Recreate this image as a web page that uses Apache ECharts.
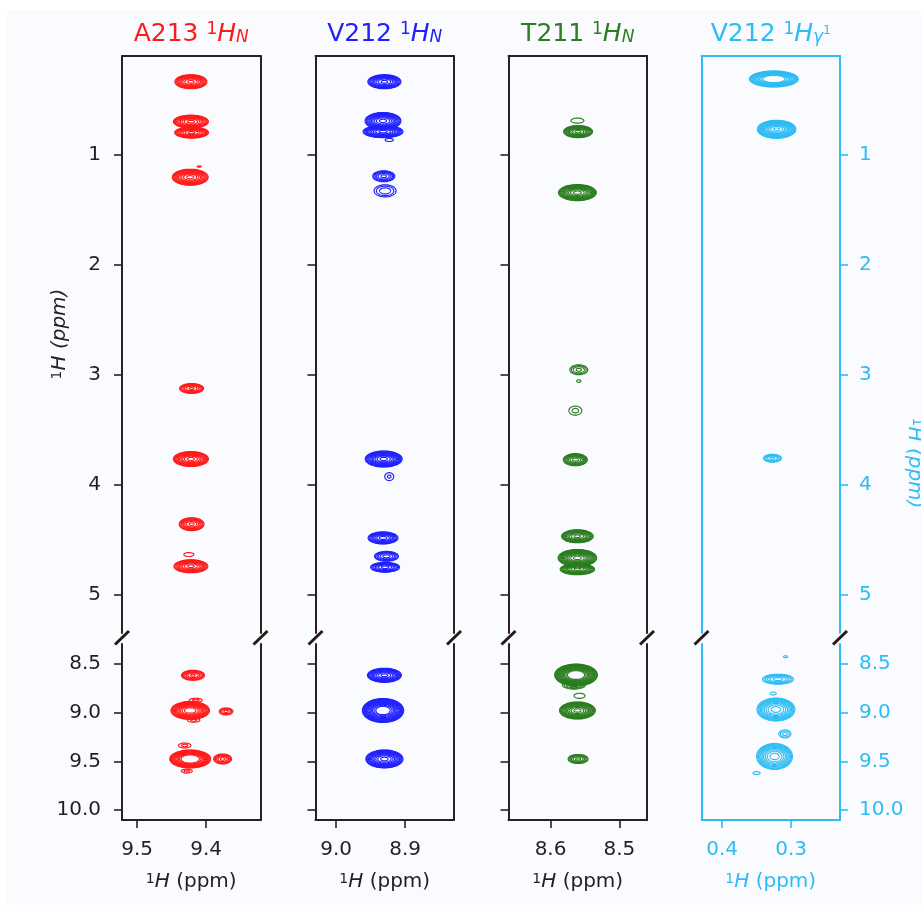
<!DOCTYPE html>
<html><head><meta charset="utf-8">
<script src="https://cdn.jsdelivr.net/npm/echarts@6/dist/echarts.min.js"></script>
<style>
html,body{margin:0;padding:0;background:#ffffff;}
#bg{position:absolute;left:7px;top:10px;width:914px;height:895px;background:#fafbfe;}
#c{position:absolute;left:0;top:0;width:921px;height:908px;}
</style>
</head><body><div id="bg"></div><div id="c"></div>
<script>
// ---------------- data ----------------
const panelNames = ['A213', 'V212', 'T211', 'V212'];
const panelAtoms = ['N', 'N', 'N', 'γ'];
const xRanges = [[9.321, 9.522], [8.829, 9.030], [8.460, 8.661], [0.229, 0.430]];
const yRangeTop = [0.1, 5.35];
const yRangeBottom = [8.3, 10.1];
const xTicks = [[9.5, 9.4], [9.0, 8.9], [8.6, 8.5], [0.4, 0.3]];
const yTicksTop = [1, 2, 3, 4, 5];
const yTicksBottom = [8.5, 9.0, 9.5, 10.0];

// peaks: [x ppm, y ppm, half-width x (ppm), half-width y (ppm), contour levels, inner level fraction]
const peaksA213 = [
  [9.422, 0.334, 0.0232, 0.064, 10, 0.2],
  [9.422, 0.697, 0.0254, 0.059, 10, 0.2],
  [9.421, 0.797, 0.0246, 0.050, 10, 0.2],
  [9.410, 1.106, 0.0030, 0.005, 1, 1],
  [9.423, 1.203, 0.0260, 0.073, 11, 0.2],
  [9.421, 3.125, 0.0174, 0.045, 7, 0.2],
  [9.422, 3.767, 0.0254, 0.068, 11, 0.2],
  [9.421, 4.360, 0.0180, 0.059, 8, 0.2],
  [9.425, 4.636, 0.0072, 0.018, 1, 1],
  [9.422, 4.743, 0.0246, 0.059, 10, 0.2],
  [9.419, 8.620, 0.0167, 0.051, 7, 0.2],
  [9.423, 8.980, 0.0280, 0.092, 12, 0.3],
  [9.415, 8.875, 0.0095, 0.020, 2, 0.5],
  [9.418, 9.080, 0.0090, 0.020, 2, 0.5],
  [9.371, 8.990, 0.0099, 0.036, 4, 0.3],
  [9.423, 9.476, 0.0297, 0.092, 12, 0.45],
  [9.431, 9.338, 0.0090, 0.025, 2, 0.5],
  [9.428, 9.600, 0.0080, 0.020, 2, 0.5],
  [9.376, 9.476, 0.0130, 0.051, 6, 0.25]
];
const peaksV212N = [
  [8.930, 0.334, 0.0240, 0.064, 10, 0.2],
  [8.932, 0.691, 0.0260, 0.077, 11, 0.2],
  [8.932, 0.788, 0.0290, 0.055, 11, 0.2],
  [8.923, 0.864, 0.0060, 0.014, 1, 1],
  [8.931, 1.194, 0.0160, 0.050, 6, 0.25],
  [8.929, 1.327, 0.0160, 0.055, 3, 0.5],
  [8.931, 3.767, 0.0268, 0.073, 12, 0.2],
  [8.923, 3.927, 0.0065, 0.036, 2, 0.4],
  [8.932, 4.485, 0.0217, 0.055, 9, 0.25],
  [8.927, 4.652, 0.0174, 0.045, 6, 0.3],
  [8.929, 4.752, 0.0210, 0.045, 8, 0.25],
  [8.930, 8.620, 0.0246, 0.072, 11, 0.2],
  [8.932, 8.980, 0.0300, 0.123, 14, 0.35],
  [8.930, 9.476, 0.0270, 0.092, 12, 0.2]
];
const peaksT211 = [
  [8.561, 0.688, 0.0094, 0.023, 1, 1],
  [8.560, 0.788, 0.0210, 0.055, 10, 0.2],
  [8.561, 1.343, 0.0275, 0.073, 12, 0.2],
  [8.559, 2.955, 0.0130, 0.045, 4, 0.3],
  [8.559, 3.058, 0.0030, 0.012, 1, 1],
  [8.564, 3.327, 0.0094, 0.041, 2, 0.5],
  [8.564, 3.773, 0.0174, 0.055, 8, 0.25],
  [8.561, 4.470, 0.0230, 0.059, 10, 0.2],
  [8.561, 4.667, 0.0280, 0.077, 13, 0.2],
  [8.561, 4.770, 0.0250, 0.050, 11, 0.2],
  [8.563, 8.617, 0.0310, 0.112, 14, 0.4],
  [8.566, 8.720, 0.0167, 0.041, 4, 0.4],
  [8.558, 8.830, 0.0080, 0.026, 1, 1],
  [8.561, 8.980, 0.0260, 0.087, 12, 0.2],
  [8.560, 9.476, 0.0145, 0.046, 6, 0.25]
];
const peaksV212G = [
  [0.325, 0.309, 0.0355, 0.073, 12, 0.45],
  [0.321, 0.767, 0.0280, 0.082, 14, 0.15],
  [0.327, 3.760, 0.0130, 0.036, 5, 0.25],
  [0.308, 8.430, 0.0030, 0.010, 1, 1],
  [0.319, 8.660, 0.0225, 0.051, 6, 0.3],
  [0.326, 8.806, 0.0045, 0.015, 1, 1],
  [0.322, 8.970, 0.0275, 0.118, 10, 0.25],
  [0.309, 9.220, 0.0087, 0.041, 3, 0.4],
  [0.324, 9.450, 0.0260, 0.133, 10, 0.25],
  [0.350, 9.620, 0.0050, 0.015, 1, 1]
];
const allPeaks = [peaksA213, peaksV212N, peaksT211, peaksV212G];

// ---------------- styles / layout ----------------
const colors = ['#ff1a1a', '#2020ff', '#2b7d1f', '#2dbcf4'];
const spine = '#2b201d';
const textDark = '#231f20';
const FONT = 'DejaVu Sans';
const colLeft = [122, 315.5, 508.5, 701.5];
const colWidth = 138.5;
const topBox = {top: 56, height: 577};
const botBox = {top: 644, height: 176};

const supRich = {
  n: {fontSize: 20, lineHeight: 20, fontFamily: FONT},
  it: {fontSize: 20, lineHeight: 20, fontStyle: 'italic', fontFamily: FONT},
  sup: {fontSize: 14, lineHeight: 14, verticalAlign: 'top', padding: [0, 0, 11, 0], fontFamily: FONT}
};

function makeRender(color) {
  return function (params, api) {
    const p = api.coord([api.value(0), api.value(1)]);
    const sz = api.size([api.value(2), api.value(3)]);
    const n = api.value(4), inner = api.value(5);
    const children = [];
    for (let k = 0; k < n; k++) {
      const f = n === 1 ? 1 : Math.sqrt(1 - (k / (n - 1)) * (1 - inner * inner));
      const pts = [];
      for (let i = 0; i < 60; i++) {
        const t = i / 60 * 2 * Math.PI;
        pts.push([p[0] + sz[0] * f * Math.cos(t), p[1] + sz[1] * f * Math.sin(t)]);
      }
      children.push({type: 'polygon', shape: {points: pts}, style: {fill: 'none', stroke: color, lineWidth: 1.15}});
    }
    return {type: 'group', children: children};
  };
}

const grids = [], xAxes = [], yAxes = [], series = [], graphics = [];
for (let c = 0; c < 4; c++) {
  const lineCol = c === 3 ? colors[3] : spine;
  const labCol = c === 3 ? colors[3] : textDark;
  for (let r = 0; r < 2; r++) {
    const box = r === 0 ? topBox : botBox;
    const gi = grids.length;
    grids.push({left: colLeft[c], width: colWidth, top: box.top, height: box.height, containLabel: false});
    const yr = r === 0 ? yRangeTop : yRangeBottom;
    const yt = r === 0 ? yTicksTop : yTicksBottom;
    xAxes.push({
      type: 'value', gridIndex: gi, min: xRanges[c][0], max: xRanges[c][1], inverse: true,
      position: r === 0 ? 'top' : 'bottom',
      axisLine: {show: true, onZero: false, lineStyle: {color: lineCol, width: 2}},
      axisTick: {show: r === 1, length: 8, lineStyle: {color: lineCol, width: 1.6}, customValues: xTicks[c]},
      axisLabel: {show: r === 1, customValues: xTicks[c], margin: 20, color: labCol, fontSize: 20, fontFamily: FONT,
        formatter: v => Number(v).toFixed(1)},
      splitLine: {show: false},
      name: r === 1 ? '{sup|1}{it|H}{n| (ppm)}' : '',
      nameLocation: 'middle', nameGap: 52,
      nameTextStyle: {color: labCol, fontSize: 20, fontFamily: FONT, rich: JSON.parse(JSON.stringify(supRich))}
    });
    // left spine
    yAxes.push({
      type: 'value', gridIndex: gi, min: yr[0], max: yr[1], inverse: true, position: 'left',
      axisLine: {show: true, onZero: false, lineStyle: {color: lineCol, width: 2}},
      axisTick: {show: c < 3, length: 8, lineStyle: {color: lineCol, width: 1.6}, customValues: yt},
      axisLabel: {show: c === 0, customValues: yt, margin: 21, color: labCol, fontSize: 20, fontFamily: FONT,
        formatter: v => r === 0 ? String(Math.round(v)) : Number(v).toFixed(1)},
      splitLine: {show: false}
    });
    // right spine
    yAxes.push({
      type: 'value', gridIndex: gi, min: yr[0], max: yr[1], inverse: true, position: 'right',
      axisLine: {show: true, onZero: false, lineStyle: {color: lineCol, width: 2}},
      axisTick: {show: c === 3, length: 8, lineStyle: {color: lineCol, width: 1.6}, customValues: yt},
      axisLabel: {show: c === 3, customValues: yt, margin: 19, color: labCol, fontSize: 20, fontFamily: FONT,
        formatter: v => r === 0 ? String(Math.round(v)) : Number(v).toFixed(1)},
      splitLine: {show: false}
    });
    series.push({
      type: 'custom', xAxisIndex: gi, yAxisIndex: gi * 2, clip: true,
      dimensions: ['x', 'y', 'wx', 'wy', 'n', 'inner'], encode: {x: 0, y: 1},
      renderItem: makeRender(colors[c]), data: allPeaks[c], silent: true
    });
  }
  // break marks
  [colLeft[c], colLeft[c] + colWidth].forEach(xx => {
    graphics.push({type: 'line', z: 100, shape: {x1: xx - 7, y1: 644.5, x2: xx + 7, y2: 631},
      style: {stroke: '#231a17', lineWidth: 3}});
  });
  // titles
  const atomRich = panelAtoms[c] === 'γ'
    ? '{a|' + panelNames[c] + ' }{sup|1}{it|H}{sub|γ}{ss|1}'
    : '{a|' + panelNames[c] + ' }{sup|1}{it|H}{sub|' + panelAtoms[c] + '}';
  graphics.push({
    type: 'text', x: colLeft[c] + colWidth / 2, y: 34, z: 100,
    style: {
      text: atomRich, fill: colors[c], align: 'center', verticalAlign: 'middle',
      fontFamily: FONT, fontSize: 25,
      rich: {
        a: {fontSize: 25, lineHeight: 25, fontFamily: FONT, fill: colors[c]},
        it: {fontSize: 25, lineHeight: 25, fontStyle: 'italic', fontFamily: FONT, fill: colors[c]},
        sup: {fontSize: 17, lineHeight: 17, verticalAlign: 'top', padding: [0, 0, 15, 0], fontFamily: FONT, fill: colors[c]},
        sub: {fontSize: 17, lineHeight: 17, verticalAlign: 'bottom', padding: [14, 0, 0, 0], fontStyle: 'italic', fontFamily: FONT, fill: colors[c]},
        ss: {fontSize: 12, lineHeight: 12, verticalAlign: 'bottom', padding: [0, 0, 10, 0], fontFamily: FONT, fill: colors[c]}
      }
    }
  });
}

// y axis names
function yName(x, y, rot, color) {
  return {
    type: 'text', x: x, y: y, rotation: rot, z: 100,
    style: {
      text: '{sup|1}{it|H (ppm)}', fill: color, align: 'center', verticalAlign: 'middle', fontFamily: FONT, fontSize: 20,
      rich: {
        it: {fontSize: 20, lineHeight: 20, fontStyle: 'italic', fontFamily: FONT, fill: color},
        sup: {fontSize: 14, lineHeight: 14, verticalAlign: 'top', padding: [0, 0, 11, 0], fontFamily: FONT, fill: color}
      }
    }
  };
}
graphics.push(yName(60, 334, Math.PI / 2, textDark));
graphics.push(yName(914, 463, -Math.PI / 2, colors[3]));

const chart = echarts.init(document.getElementById('c'), null, {renderer: 'canvas'});
chart.setOption({
  animation: false,
  backgroundColor: 'transparent',
  textStyle: {fontFamily: FONT},
  grid: grids, xAxis: xAxes, yAxis: yAxes, series: series, graphic: graphics
});
</script>
</body></html>
